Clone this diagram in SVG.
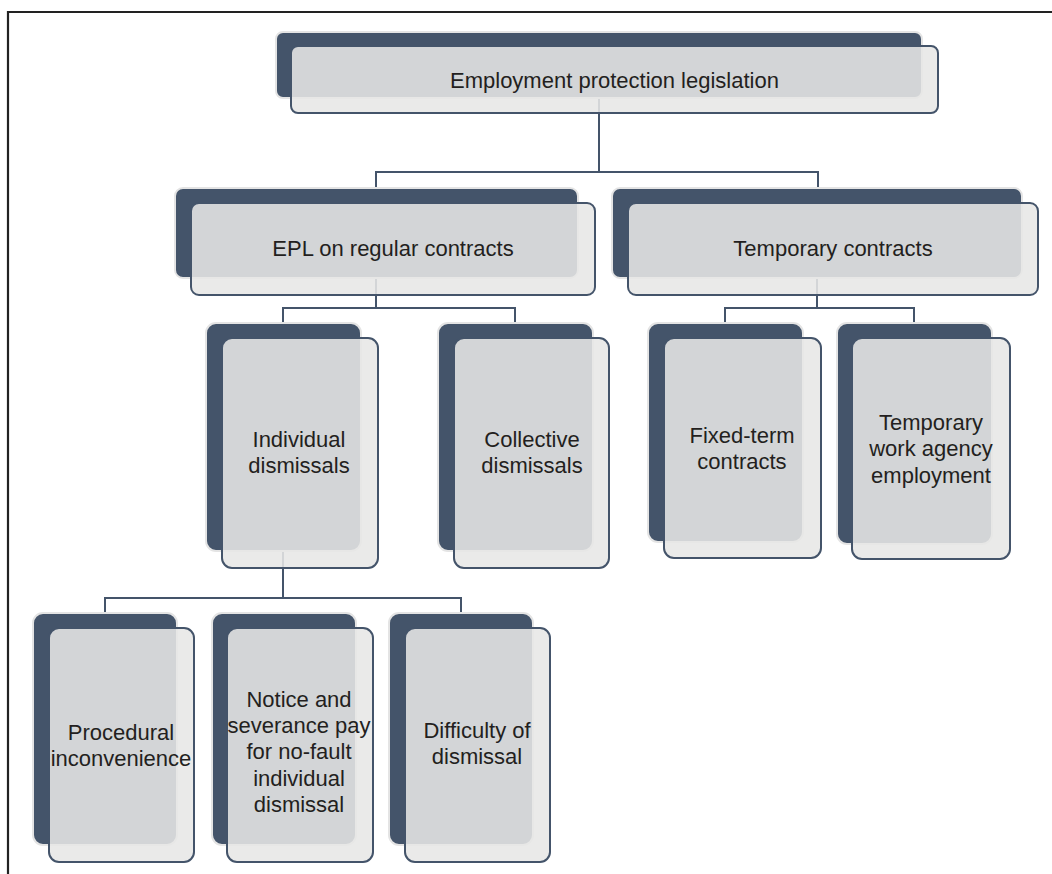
<svg xmlns="http://www.w3.org/2000/svg" width="1052" height="874" viewBox="0 0 1052 874">
<style>
.back{fill:#44546a;stroke:#e4e4e4;stroke-width:2}
.front{fill:#e7e7e6;fill-opacity:0.88;stroke:#44546a;stroke-width:2}
.conn{fill:none;stroke:#44546a;stroke-width:2}
.t{font-family:"Liberation Sans",Arial,sans-serif;font-size:22px;fill:#231f20;text-anchor:middle}
</style>
<rect x="0" y="0" width="1052" height="874" fill="#ffffff"/>
<path d="M8 874 V12 H1052" fill="none" stroke="#222" stroke-width="2.2"/>
<g id="connectors">
<path class="conn" d="M599 98 V172 M376 188 V172 H818 V188"/>
<path class="conn" d="M376 278 V308 M283 322 V308 H515 V322"/>
<path class="conn" d="M817 278 V308 M725 322 V308 H914 V322"/>
<path class="conn" d="M283 551 V598 M105 613 V598 H461 V613"/>
</g>
<g id="n-epl">
<rect class="back" x="276" y="32" width="646" height="66" rx="7"/>
<rect class="front" x="291" y="46" width="647" height="67" rx="7"/>
<text class="t" x="614.5" y="88">Employment protection legislation</text>
</g>
<g id="n-regular">
<rect class="back" x="175" y="188" width="403" height="90" rx="8"/>
<rect class="front" x="191" y="203" width="404" height="92" rx="8"/>
<text class="t" x="393" y="256">EPL on regular contracts</text>
</g>
<g id="n-temporary">
<rect class="back" x="612" y="188" width="410" height="90" rx="8"/>
<rect class="front" x="628" y="203" width="410" height="92" rx="8"/>
<text class="t" x="833" y="256">Temporary contracts</text>
</g>
<g id="n-individual">
<rect class="back" x="206" y="323" width="155" height="228" rx="10"/>
<rect class="front" x="222" y="338" width="156" height="230" rx="10"/>
<text class="t" x="299" y="447">Individual</text>
<text class="t" x="299" y="473">dismissals</text>
</g>
<g id="n-collective">
<rect class="back" x="438" y="323" width="155" height="228" rx="10"/>
<rect class="front" x="454" y="338" width="155" height="230" rx="10"/>
<text class="t" x="532" y="447">Collective</text>
<text class="t" x="532" y="473">dismissals</text>
</g>
<g id="n-fixed">
<rect class="back" x="648" y="323" width="155" height="219" rx="10"/>
<rect class="front" x="664" y="338" width="157" height="220" rx="10"/>
<text class="t" x="742" y="443">Fixed-term</text>
<text class="t" x="742" y="469">contracts</text>
</g>
<g id="n-agency">
<rect class="back" x="837" y="323" width="155" height="221" rx="10"/>
<rect class="front" x="852" y="338" width="158" height="221" rx="10"/>
<text class="t" x="931" y="430">Temporary</text>
<text class="t" x="931" y="456">work agency</text>
<text class="t" x="931" y="483">employment</text>
</g>
<g id="n-procedural">
<rect class="back" x="33" y="613" width="144" height="232" rx="10"/>
<rect class="front" x="49" y="628" width="145" height="234" rx="10"/>
<text class="t" x="121" y="740">Procedural</text>
<text class="t" x="121" y="766">inconvenience</text>
</g>
<g id="n-notice">
<rect class="back" x="212" y="613" width="144" height="232" rx="10"/>
<rect class="front" x="227" y="628" width="146" height="234" rx="10"/>
<text class="t" x="299" y="707">Notice and</text>
<text class="t" x="299" y="733">severance pay</text>
<text class="t" x="299" y="759">for no-fault</text>
<text class="t" x="299" y="786">individual</text>
<text class="t" x="299" y="812">dismissal</text>
</g>
<g id="n-difficulty">
<rect class="back" x="389" y="613" width="144" height="232" rx="10"/>
<rect class="front" x="405" y="628" width="145" height="234" rx="10"/>
<text class="t" x="477" y="738">Difficulty of</text>
<text class="t" x="477" y="764">dismissal</text>
</g>
</svg>
